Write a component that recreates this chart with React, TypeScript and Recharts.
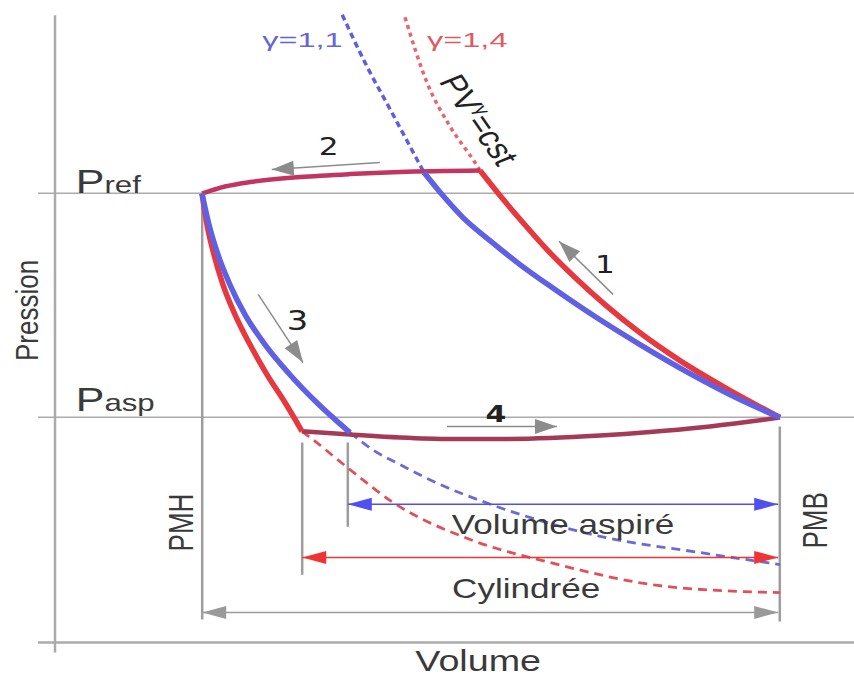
import React from 'react';
import { ComposedChart, Line, XAxis, YAxis, ReferenceLine, ReferenceDot } from 'recharts';

type Pt = { v: number; p: number };

// ---- data (V = volume units, P = pressure units) ----
const topLine: Pt[] = [
  { v: 18.375, p: 70.16 }, { v: 21.25, p: 71.25 }, { v: 24.375, p: 71.95 }, { v: 30.625, p: 72.73 },
  { v: 36.875, p: 73.2 }, { v: 43.125, p: 73.52 }, { v: 53.125, p: 73.75 },
];
const bottomLine: Pt[] = [
  { v: 30.875, p: 33.0 }, { v: 36.875, p: 32.5 }, { v: 43.125, p: 32.03 }, { v: 49.375, p: 31.8 },
  { v: 55.625, p: 31.8 }, { v: 61.875, p: 31.95 }, { v: 68.125, p: 32.34 }, { v: 74.375, p: 32.89 },
  { v: 80.625, p: 33.59 }, { v: 86.875, p: 34.53 }, { v: 90.625, p: 35.16 },
];
const compRed: Pt[] = [
  { v: 53.125, p: 73.75 }, { v: 55.625, p: 69.84 }, { v: 58.375, p: 65.78 }, { v: 61.5, p: 61.4 },
  { v: 65, p: 57.03 }, { v: 68.75, p: 52.8 }, { v: 73.125, p: 48.4 }, { v: 78.125, p: 44.06 },
  { v: 83.75, p: 39.84 }, { v: 90.625, p: 35.16 },
];
const compBlue: Pt[] = [
  { v: 46.125, p: 73.44 }, { v: 48.375, p: 70 }, { v: 51, p: 66.4 }, { v: 54.375, p: 62.8 },
  { v: 58.125, p: 59.06 }, { v: 62.5, p: 55.16 }, { v: 67.5, p: 50.94 }, { v: 73.125, p: 46.56 },
  { v: 79.375, p: 42.03 }, { v: 85.625, p: 37.97 }, { v: 90.625, p: 35.16 },
];
const expRed: Pt[] = [
  { v: 18.375, p: 70.16 }, { v: 19, p: 65.3 }, { v: 19.875, p: 60.6 }, { v: 21, p: 55.9 },
  { v: 22.5, p: 51.25 }, { v: 24.375, p: 46.56 }, { v: 26.5, p: 41.875 }, { v: 28.75, p: 37.5 },
  { v: 30.875, p: 33.0 },
];
const expBlue: Pt[] = [
  { v: 18.375, p: 70.16 }, { v: 19.25, p: 65.3 }, { v: 20.375, p: 60.6 }, { v: 21.875, p: 55.9 },
  { v: 23.75, p: 51.25 }, { v: 26.25, p: 46.56 }, { v: 29.125, p: 42.2 }, { v: 32.875, p: 37.3 },
  { v: 36.875, p: 32.8 },
];
const blueDashUp: Pt[] = [
  { v: 35.9, p: 98.1 }, { v: 39, p: 90 }, { v: 41.9, p: 83.3 }, { v: 45.2, p: 75.6 }, { v: 46.125, p: 73.44 },
];
const redDashUp: Pt[] = [
  { v: 43.75, p: 97.7 }, { v: 46.5, p: 87.5 }, { v: 49.4, p: 80.6 }, { v: 52.5, p: 75 }, { v: 53.125, p: 73.75 },
];
const redDashDown: Pt[] = [
  { v: 30.875, p: 33 }, { v: 32.25, p: 31.7 }, { v: 36.9, p: 27 }, { v: 42.25, p: 21.9 },
  { v: 51.9, p: 16.1 }, { v: 61.9, p: 12.5 }, { v: 76.5, p: 8.75 }, { v: 90.6, p: 7.8 },
];
const blueDashDown: Pt[] = [
  { v: 36.875, p: 32.8 }, { v: 39.875, p: 30 }, { v: 43.125, p: 27.8 }, { v: 48.125, p: 24.7 },
  { v: 53.125, p: 22.2 }, { v: 60.625, p: 19.06 }, { v: 68.125, p: 16.6 }, { v: 80.625, p: 14.06 },
  { v: 90.625, p: 12.19 },
];

// reference levels / positions
const V_MIN = -2.125;
const V_MAX = 99.875;
const P_MIN = -1.6;
const P_MAX = 100.4;
const P_REF = 70.2;
const P_ASP = 35.2;
const V_PMH = 18.4;
const V_PMB = 90.6;
const V_CYL = 30.9;
const V_ASP = 36.6;

const axisX: Pt[] = [{ v: V_MIN, p: 0 }, { v: V_MAX, p: 0 }];
const axisY: Pt[] = [{ v: 0, p: P_MIN }, { v: 0, p: 98 }];
const prefLine: Pt[] = [{ v: V_MIN, p: P_REF }, { v: V_MAX, p: P_REF }];
const paspLine: Pt[] = [{ v: V_MIN, p: P_ASP }, { v: V_MAX, p: P_ASP }];
const pmhLine: Pt[] = [{ v: V_PMH, p: 3.6 }, { v: V_PMH, p: P_REF }];
const pmbLine: Pt[] = [{ v: V_PMB, p: 3.3 }, { v: V_PMB, p: 33.75 }];
const cylTick: Pt[] = [{ v: V_CYL, p: 10.6 }, { v: V_CYL, p: 31.25 }];
const aspTick: Pt[] = [{ v: V_ASP, p: 18.1 }, { v: V_ASP, p: 31.25 }];

const arrow1 = [{ x: 69.75, y: 54.4 }, { x: 63, y: 62.7 }];
const arrow2 = [{ x: 40.6, y: 75 }, { x: 27.1, y: 73.9 }];
const arrow3 = [{ x: 25.4, y: 54.4 }, { x: 31, y: 43.75 }];
const arrow4 = [{ x: 49, y: 33.75 }, { x: 62.75, y: 33.75 }];
const arrowAsp = [{ x: V_ASP, y: 21.6 }, { x: 90.4, y: 21.6 }];
const arrowCyl = [{ x: V_CYL, y: 13.3 }, { x: 90.4, y: 13.3 }];
const arrowCourse = [{ x: V_PMH, y: 4.7 }, { x: 90.4, y: 4.7 }];

const labels = {
  pression: 'Pression',
  volume: 'Volume',
  pmh: 'PMH',
  pmb: 'PMB',
  asp: 'Volume aspiré',
  cyl: 'Cylindrée',
  g11: 'γ=1,1',
  g14: 'γ=1,4',
};

// ---- styles ----
const FONT = '"Liberation Sans", Arial, sans-serif';
const DIGIT_FONT = '"DejaVu Sans", sans-serif';
const RED = '#e6393f';
const BLUE = '#6060e4';
const TOP = '#c23560';
const BOTTOM = '#a43a55';
const GRAY = '#ababab';
const ARROW_GRAY = '#8c8c8c';
const TEXT = '#3a3a3a';

function Arrow(props: any) {
  const { x1, y1, x2, y2, color, width = 1.5, start = false, end = true, headLen = 22, headW = 7.5 } = props;
  if (x1 == null || x2 == null) return null;
  const dx = x2 - x1;
  const dy = y2 - y1;
  const len = Math.hypot(dx, dy) || 1;
  const ux = dx / len;
  const uy = dy / len;
  const head = (tx: number, ty: number, dir: number) => {
    const bx = tx - dir * ux * headLen;
    const by = ty - dir * uy * headLen;
    const px = -uy * headW;
    const py = ux * headW;
    return <polygon points={`${tx},${ty} ${bx + px},${by + py} ${bx - px},${by - py}`} fill={color} />;
  };
  return (
    <g>
      <line x1={x1} y1={y1} x2={x2} y2={y2} stroke={color} strokeWidth={width} />
      {start && head(x1, y1, -1)}
      {end && head(x2, y2, 1)}
    </g>
  );
}

function Txt(props: any) {
  const { cx, cy, children, size = 26, color = TEXT, font = FONT, sx = 1.3, rot = 0, anchor = 'start', weight = 'normal' } = props;
  if (cx == null || cy == null) return null;
  const tf = rot === -90
    ? `translate(${cx},${cy}) rotate(-90) scale(1,${sx})`
    : `translate(${cx},${cy}) scale(${sx},1) rotate(${rot})`;
  return (
    <g transform={tf}>
      <text x={0} y={0} fontSize={size} fill={color} fontFamily={font} textAnchor={anchor} fontWeight={weight}>
        {children}
      </text>
    </g>
  );
}

function seg(data: Pt[], stroke: string, width: number, key: string, dash?: string, type: any = 'linear') {
  return (
    <Line
      key={key}
      data={data}
      dataKey="p"
      type={type}
      stroke={stroke}
      strokeWidth={width}
      strokeDasharray={dash}
      strokeLinejoin="round"
      dot={false}
      activeDot={false}
      isAnimationActive={false}
      legendType="none"
    />
  );
}

export default function App() {
  return (
    <div style={{ position: 'absolute', left: 0, top: 0, width: 854, height: 678, background: '#fff' }}>
      <ComposedChart width={854} height={678} margin={{ top: 0, right: 0, bottom: 25.2, left: 38 }}>
        <XAxis type="number" dataKey="v" domain={[V_MIN, V_MAX]} hide allowDataOverflow />
        <YAxis type="number" dataKey="p" domain={[P_MIN, P_MAX]} hide allowDataOverflow />

        {seg(prefLine, GRAY, 1.5, 'pref')}
        {seg(paspLine, GRAY, 1.5, 'pasp')}
        {seg(axisX, GRAY, 2.5, 'ax')}
        {seg(axisY, GRAY, 2.5, 'ay')}
        {seg(pmhLine, '#9d9d9d', 2.5, 'pmh')}
        {seg(pmbLine, '#9d9d9d', 2.5, 'pmb')}
        {seg(cylTick, '#9d9d9d', 2.5, 'cylt')}
        {seg(aspTick, '#9d9d9d', 2.5, 'aspt')}

        {seg(blueDashUp, '#5e5ee0', 3.5, 'bdu', '6 4', 'monotone')}
        {seg(redDashUp, '#e8656d', 3.5, 'rdu', '4 4', 'monotone')}
        {seg(redDashDown, '#e05058', 2.8, 'rdd', '9 6', 'monotone')}
        {seg(blueDashDown, '#6a6ad8', 2.8, 'bdd', '9 6', 'monotone')}

        {seg(topLine, TOP, 4.5, 'top', undefined, 'monotone')}
        {seg(bottomLine, BOTTOM, 4.5, 'bot', undefined, 'monotone')}
        {seg(expRed, RED, 5.5, 'er', undefined, 'monotone')}
        {seg(compRed, RED, 5.5, 'cr', undefined, 'monotone')}
        {seg(expBlue, BLUE, 5.5, 'eb', undefined, 'monotone')}
        {seg(compBlue, BLUE, 5.5, 'cb', undefined, 'monotone')}

        <ReferenceLine segment={arrow1} ifOverflow="visible" shape={<Arrow color={ARROW_GRAY} />} />
        <ReferenceLine segment={arrow2} ifOverflow="visible" shape={<Arrow color={ARROW_GRAY} />} />
        <ReferenceLine segment={arrow3} ifOverflow="visible" shape={<Arrow color={ARROW_GRAY} />} />
        <ReferenceLine segment={arrow4} ifOverflow="visible" shape={<Arrow color={ARROW_GRAY} />} />
        <ReferenceLine segment={arrowAsp} ifOverflow="visible" shape={<Arrow color="#5050ee" width={1.5} start end headLen={24} headW={6.5} />} />
        <ReferenceLine segment={arrowCyl} ifOverflow="visible" shape={<Arrow color="#f03434" width={1.5} start end headLen={24} headW={6.5} />} />
        <ReferenceLine segment={arrowCourse} ifOverflow="visible" shape={<Arrow color="#9a9a9a" width={1.5} start end headLen={24} headW={6.5} />} />

        <ReferenceDot x={2.6} y={70.3} ifOverflow="visible" shape={
          <Txt sx={1.3}><tspan fontSize={33}>P</tspan><tspan fontSize={24}>ref</tspan></Txt>
        } />
        <ReferenceDot x={2.6} y={36.25} ifOverflow="visible" shape={
          <Txt sx={1.3}><tspan fontSize={33}>P</tspan><tspan fontSize={24}>asp</tspan></Txt>
        } />
        <ReferenceDot x={V_MIN} y={51.9} ifOverflow="visible" shape={
          <Txt rot={-90} sx={1.2} size={26} anchor="middle">{labels.pression}</Txt>
        } />
        <ReferenceDot x={17.25} y={18.75} ifOverflow="visible" shape={
          <Txt rot={-90} sx={1.35} size={26} anchor="middle">{labels.pmh}</Txt>
        } />
        <ReferenceDot x={96.5} y={19.1} ifOverflow="visible" shape={
          <Txt rot={-90} sx={1.35} size={26} anchor="middle">{labels.pmb}</Txt>
        } />
        <ReferenceDot x={63.5} y={16.9} ifOverflow="visible" shape={
          <Txt size={27} anchor="middle">{labels.asp}</Txt>
        } />
        <ReferenceDot x={58.9} y={7.0} ifOverflow="visible" shape={
          <Txt size={27} anchor="middle">{labels.cyl}</Txt>
        } />
        <ReferenceDot x={52.9} y={-4.4} ifOverflow="visible" shape={
          <Txt size={29} anchor="middle">{labels.volume}</Txt>
        } />
        <ReferenceDot x={68.75} y={57.8} ifOverflow="visible" shape={
          <Txt size={24} font={DIGIT_FONT} anchor="middle" color="#222">1</Txt>
        } />
        <ReferenceDot x={34.2} y={76.25} ifOverflow="visible" shape={
          <Txt size={24} font={DIGIT_FONT} anchor="middle" color="#222">2</Txt>
        } />
        <ReferenceDot x={30.3} y={48.9} ifOverflow="visible" shape={
          <Txt size={26} font={DIGIT_FONT} anchor="middle" color="#222">3</Txt>
        } />
        <ReferenceDot x={55.1} y={34.5} ifOverflow="visible" shape={
          <Txt size={23} font={DIGIT_FONT} anchor="middle" color="#222" weight="bold">4</Txt>
        } />
        <ReferenceDot x={25.9} y={93} ifOverflow="visible" shape={
          <Txt size={21} sx={1.55} color="#6666d6">{labels.g11}</Txt>
        } />
        <ReferenceDot x={46.5} y={93} ifOverflow="visible" shape={
          <Txt size={21} sx={1.55} color="#e05a62">{labels.g14}</Txt>
        } />
        <ReferenceDot x={47.9} y={87.7} ifOverflow="visible" shape={
          <Txt size={28} sx={1.3} rot={62} color="#222">
            <tspan>PV</tspan>
            <tspan fontSize={16} dy={-11}>γ</tspan>
            <tspan dy={11}>=cst</tspan>
          </Txt>
        } />
      </ComposedChart>
    </div>
  );
}
